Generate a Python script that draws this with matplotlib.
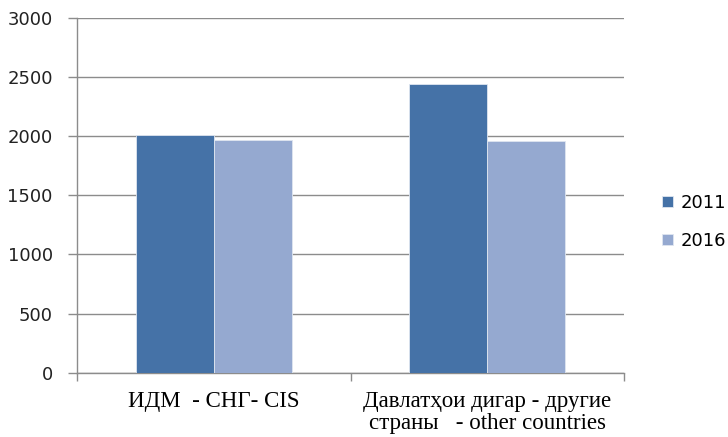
import numpy as np
import matplotlib.pyplot as plt

categories = ['ИДМ  - СНГ- CIS', 'Давлатҳои дигар - другие\nстраны   - other countries']
years = ['2011', '2016']
values_2011 = [2010, 2440]
values_2016 = [1970, 1960]

colors = ['#4572a7', '#95a9d0']

fig = plt.figure(figsize=(7.28, 4.37), dpi=100)
ax = fig.add_axes([0.106, 0.147, 0.751, 0.812])

x = np.arange(len(categories))
width = 0.285
ax.bar(x - width / 2, values_2011, width, color=colors[0], edgecolor='#dfe6f0', linewidth=0.6, label=years[0], zorder=3)
ax.bar(x + width / 2, values_2016, width, color=colors[1], edgecolor='#dfe6f0', linewidth=0.6, label=years[1], zorder=3)

ax.set_xlim(-0.5, len(categories) - 0.5)
ax.set_ylim(0, 3000)
ax.set_yticks(np.arange(0, 3001, 500))
ax.yaxis.grid(True, color='#8c8c8c', linewidth=1.0, zorder=0)

# category boundary ticks on the x axis
ax.set_xticks([-0.5, 0.5, 1.5])
ax.set_xticklabels([])
ax.set_xticks(x, minor=True)
ax.set_xticklabels(categories, minor=True, fontfamily='Liberation Serif', fontsize=16.5, linespacing=1.08)
ax.tick_params(axis='x', which='minor', length=0, pad=13)
ax.tick_params(axis='x', which='major', length=6, color='#8c8c8c', width=1)
ax.tick_params(axis='y', length=6.5, color='#8c8c8c', width=1, labelsize=13, pad=11, labelcolor='#222222')

for side in ['top', 'right']:
    ax.spines[side].set_visible(False)
for side in ['left', 'bottom']:
    ax.spines[side].set_color('#8c8c8c')
    ax.spines[side].set_linewidth(1.0)

leg = ax.legend(loc='center left', bbox_to_anchor=(1.04, 0.425), frameon=False,
                fontsize=13, handlelength=0.6, handleheight=0.6, handletextpad=0.45,
                labelspacing=1.1)

fig.savefig('out.png', dpi=100)
